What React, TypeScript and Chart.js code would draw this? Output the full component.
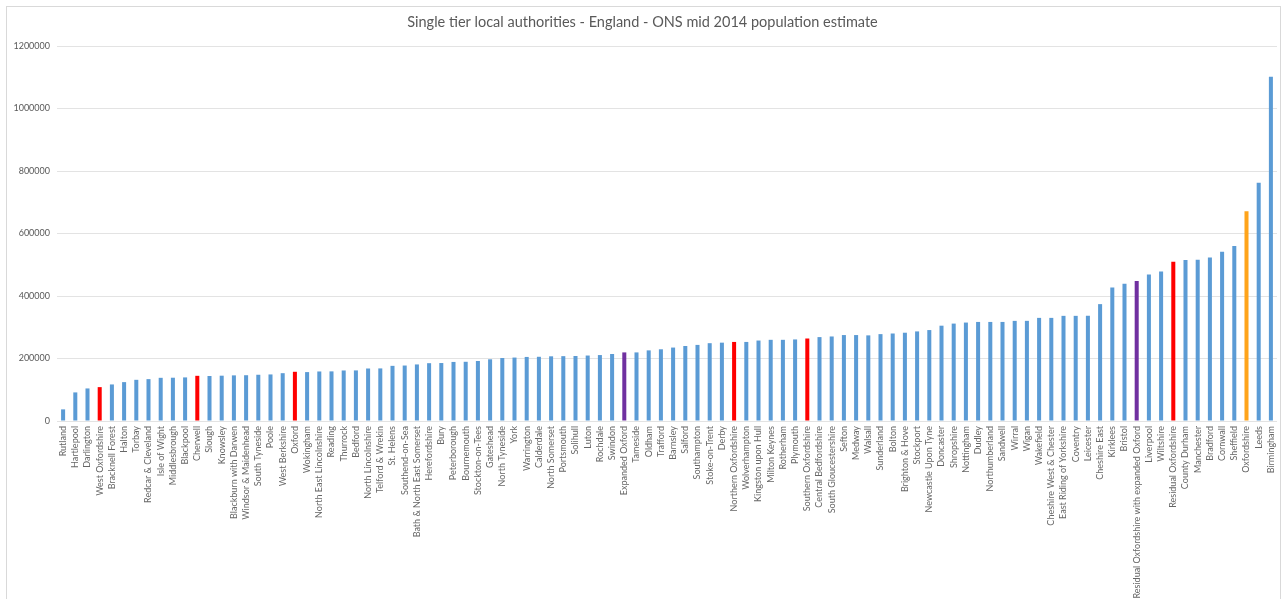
import React, { useEffect, useRef } from 'react';
import { Chart, registerables } from 'chart.js';

Chart.register(...registerables);

const chartTitle = 'Single tier local authorities - England - ONS mid 2014 population estimate';

const categories = [
  'Rutland', 'Hartlepool', 'Darlington', 'West Oxfordshire', 'Bracknell Forest', 'Halton', 'Torbay',
  'Redcar & Cleveland', 'Isle of Wight', 'Middlesbrough', 'Blackpool', 'Cherwell', 'Slough', 'Knowsley',
  'Blackburn with Darwen', 'Windsor & Maidenhead', 'South Tyneside', 'Poole', 'West Berkshire', 'Oxford',
  'Wokingham', 'North East Lincolnshire', 'Reading', 'Thurrock', 'Bedford', 'North Lincolnshire',
  'Telford & Wrekin', 'St. Helens', 'Southend-on-Sea', 'Bath & North East Somerset', 'Herefordshire',
  'Bury', 'Peterborough', 'Bournemouth', 'Stockton-on-Tees', 'Gateshead', 'North Tyneside', 'York',
  'Warrington', 'Calderdale', 'North Somerset', 'Portsmouth', 'Solihull', 'Luton', 'Rochdale', 'Swindon',
  'Expanded Oxford', 'Tameside', 'Oldham', 'Trafford', 'Barnsley', 'Salford', 'Southampton',
  'Stoke-on-Trent', 'Derby', 'Northern Oxfordshire', 'Wolverhampton', 'Kingston upon Hull',
  'Milton Keynes', 'Rotherham', 'Plymouth', 'Southern Oxfordshire', 'Central Bedfordshire',
  'South Gloucestershire', 'Sefton', 'Medway', 'Walsall', 'Sunderland', 'Bolton', 'Brighton & Hove',
  'Stockport', 'Newcastle Upon Tyne', 'Doncaster', 'Shropshire', 'Nottingham', 'Dudley',
  'Northumberland', 'Sandwell', 'Wirral', 'Wigan', 'Wakefield', 'Cheshire West & Chester',
  'East Riding of Yorkshire', 'Coventry', 'Leicester', 'Cheshire East', 'Kirklees', 'Bristol',
  'Residual Oxfordshire with expanded Oxford', 'Liverpool', 'Wiltshire', 'Residual Oxfordshire',
  'County Durham', 'Manchester', 'Bradford', 'Cornwall', 'Sheffield', 'Oxfordshire', 'Leeds', 'Birmingham',
];

const population = [
  37200, 91500, 104200, 108400, 117000, 124400, 131800,
  134000, 138200, 138500, 139500, 144600, 144000, 145000,
  146000, 146500, 148000, 149000, 153000, 157500,
  156500, 158500, 158800, 161700, 161900, 168000,
  168300, 176500, 177500, 181000, 185000,
  185500, 189000, 189500, 192000, 197500, 201500, 203000,
  205000, 205500, 207000, 207500, 208000, 209500, 211000, 214500,
  219500, 219500, 226000, 229500, 235000, 240000, 243500,
  249000, 250700, 253000, 253000, 257500,
  259800, 259800, 261000, 264000, 268500,
  270500, 275000, 275000, 274000, 278000, 280000, 282500,
  286700, 291000, 305000, 311700, 315000, 317000,
  317000, 317000, 320400, 320500, 330000, 330000,
  336500, 336500, 336800, 374000, 427500, 439000,
  447700, 469000, 478800, 509700,
  515000, 515800, 523600, 541700, 560000, 671000, 762800, 1101500,
];

const yTicks = [0, 200000, 400000, 600000, 800000, 1000000, 1200000];

const highlightColours: Record<string, string> = {
  'West Oxfordshire': '#FF0000',
  'Cherwell': '#FF0000',
  'Oxford': '#FF0000',
  'Northern Oxfordshire': '#FF0000',
  'Southern Oxfordshire': '#FF0000',
  'Residual Oxfordshire': '#FF0000',
  'Expanded Oxford': '#7030A0',
  'Residual Oxfordshire with expanded Oxford': '#7030A0',
  'Oxfordshire': '#FFA41B',
};
const baseColour = '#5B9BD5';

export default function App() {
  const ref = useRef<HTMLCanvasElement>(null);

  useEffect(() => {
    if (!ref.current) return;
    const chart = new Chart(ref.current, {
      type: 'bar',
      data: {
        labels: categories,
        datasets: [
          {
            label: 'Population',
            data: population,
            backgroundColor: categories.map((c) => highlightColours[c] || baseColour),
            barPercentage: 0.33,
            categoryPercentage: 1,
          },
        ],
      },
      options: {
        animation: false,
        responsive: false,
        devicePixelRatio: 1,
        layout: { padding: { top: 5, left: 8, right: 11, bottom: 0 } },
        plugins: {
          legend: { display: false },
          tooltip: { enabled: false },
          title: {
            display: true,
            text: chartTitle,
            color: '#595959',
            font: { family: 'Lato', size: 14.5, weight: 'normal' },
            padding: { top: 8.3, bottom: 15.3 },
          },
        },
        scales: {
          x: {
            grid: { display: false, drawTicks: false },
            border: { display: false },
            ticks: {
              autoSkip: false,
              minRotation: 90,
              maxRotation: 90,
              padding: 5,
              color: '#666666',
              font: { family: 'Lato', size: 9 },
            },
            afterFit: (scale: any) => {
              scale.height = 178;
            },
          },
          y: {
            min: 0,
            max: 1200000,
            afterBuildTicks: (scale: any) => {
              scale.ticks = yTicks.map((v) => ({ value: v }));
            },
            grid: { color: '#E3E3E3', drawTicks: false, lineWidth: 1 },
            border: { display: false },
            ticks: {
              padding: 7,
              color: '#595959',
              font: { family: 'Lato', size: 9 },
              callback: (v: any) => String(v),
            },
            afterFit: (scale: any) => {
              scale.width = 49;
            },
          },
        },
      },
    });
    return () => chart.destroy();
  }, []);

  return (
    <div
      style={{
        position: 'fixed',
        left: 0,
        top: 0,
        width: 1288,
        height: 599,
        overflow: 'hidden',
        background: '#ffffff',
      }}
    >
      <div
        style={{
          position: 'absolute',
          left: 6,
          top: 6,
          width: 1273,
          height: 700,
          border: '1px solid #D9D9D9',
        }}
      />
      <canvas
        ref={ref}
        width={1288}
        height={599}
        style={{ position: 'absolute', left: 0, top: 0, width: 1288, height: 599 }}
      />
    </div>
  );
}
